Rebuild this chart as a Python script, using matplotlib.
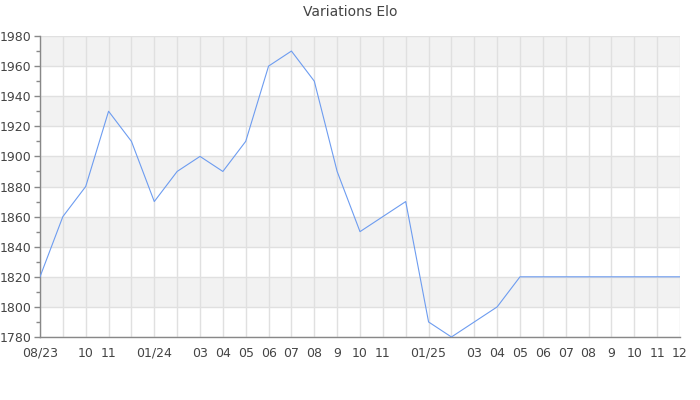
import matplotlib
matplotlib.use("Agg")
import matplotlib.pyplot as plt
from matplotlib.ticker import MultipleLocator

months = list(range(29))
tick_labels = ["08/23", "", "10", "11", "", "01/24", "", "03", "04", "05", "06", "07", "08", "9",
               "10", "11", "", "01/25", "", "03", "04", "05", "06", "07", "08", "9", "10", "11", "12"]
elo = [1820, 1860, 1880, 1930, 1910, 1870, 1890, 1900, 1890, 1910, 1960, 1970, 1950, 1890,
       1850, 1860, 1870, 1790, 1780, 1790, 1800, 1820, 1820, 1820, 1820, 1820, 1820, 1820, 1820]
title = "Variations Elo"

fig = plt.figure(figsize=(7, 4), dpi=100)
ax = fig.add_axes([40/700, 1 - 337/400, 640/700, 301/400])

ymin, ymax = 1780, 1980
for lo in range(1800, 1980, 40):
    ax.axhspan(lo, lo + 20, color="#f2f2f2", zorder=0, lw=0)
ax.set_ylim(ymin, ymax)
ax.set_xlim(months[0], months[-1])
ax.yaxis.set_major_locator(MultipleLocator(20))
ax.yaxis.set_minor_locator(MultipleLocator(10))
ax.set_xticks(months)
ax.set_xticklabels(tick_labels)
ax.grid(True, which="major", color="#e0e0e0", lw=1, zorder=1)
ax.set_axisbelow(True)

ax.plot(months, elo, color="#6d9cf0", lw=0.8, zorder=3)

for s in ["top", "right"]:
    ax.spines[s].set_visible(False)
for s in ["left", "bottom"]:
    ax.spines[s].set_color("#888888")
    ax.spines[s].set_linewidth(1)

ax.tick_params(axis="x", length=0, pad=7, labelsize=9, colors="#444444")
ax.tick_params(axis="y", which="major", length=4, width=1, color="#888888", labelsize=9, labelcolor="#444444", pad=2)
ax.tick_params(axis="y", which="minor", length=3, width=1, color="#888888")

fig.suptitle(title, y=0.988, fontsize=10, color="#444444")
fig.savefig("out.png", dpi=100)
